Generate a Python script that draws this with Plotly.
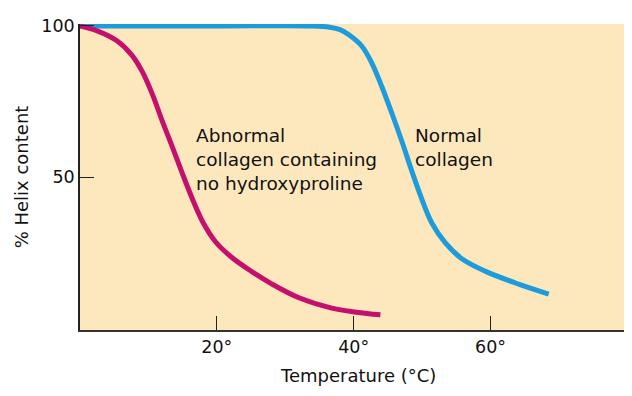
import plotly.graph_objects as go

# Data
abn_temp = [0, 2.5, 5.4, 7.6, 9.1, 10.6, 12.0, 13.5, 14.9, 16.4, 17.9, 19.8, 22.2, 25.0, 28.0, 32.0, 36.8, 41.9, 43.9]
abn_helix = [100, 98.4, 95.1, 90.3, 84.9, 77.3, 68.7, 60.0, 51.6, 43.0, 35.4, 28.7, 23.5, 19.0, 14.8, 10.2, 6.8, 5.0, 4.6]

norm_temp = [0, 20, 34, 36.5, 38, 39.3, 41.2, 42.7, 44.1, 45.6, 47.1, 48.5, 50.0, 51.4, 53.4, 55.8, 59.2, 64.1, 68.5]
norm_helix = [100, 100, 100, 99.6, 98.8, 97.1, 93.3, 87.5, 80.0, 71.0, 61.5, 52.0, 42.5, 35.0, 28.3, 23.1, 19.0, 14.7, 11.4]

x_ticks = [20, 40, 60]
x_tick_labels = ["20°", "40°", "60°"]
y_ticks = [50, 100]
y_tick_labels = ["50", "100"]

FONT = "DejaVu Sans"

fig = go.Figure()
fig.add_trace(go.Scatter(x=norm_temp, y=norm_helix, mode="lines",
                         line=dict(color="#1E9BDA", width=5, shape="spline", smoothing=1.0),
                         hoverinfo="skip"))
fig.add_trace(go.Scatter(x=abn_temp, y=abn_helix, mode="lines",
                         line=dict(color="#C4106C", width=5, shape="spline", smoothing=1.0),
                         hoverinfo="skip"))

fig.add_annotation(x=16.7, y=68, xref="x", yref="y", xanchor="left", yanchor="top",
                   text="Abnormal<br>collagen containing<br>no hydroxyproline",
                   showarrow=False, align="left",
                   font=dict(family=FONT, size=18.5, color="#111"))
fig.add_annotation(x=48.7, y=68, xref="x", yref="y", xanchor="left", yanchor="top",
                   text="Normal<br>collagen",
                   showarrow=False, align="left",
                   font=dict(family=FONT, size=18.5, color="#111"))
# x-axis title (placed as annotation to match its horizontal offset)
fig.add_annotation(x=0.511, y=0, xref="paper", yref="paper", xanchor="center", yanchor="middle",
                   yshift=-45, text="Temperature (°C)", showarrow=False,
                   font=dict(family=FONT, size=18, color="#111"))

fig.update_layout(
    width=624, height=388,
    margin=dict(l=72, r=8, t=10, b=66),
    paper_bgcolor="white",
    plot_bgcolor="#FDE8BD",
    showlegend=False,
    font=dict(family=FONT, size=17.5, color="#111"),
    xaxis=dict(range=[0, 79.5], tickvals=x_ticks, ticktext=x_tick_labels,
               ticks="inside", ticklen=14, tickwidth=1, tickcolor="#222",
               showline=True, linecolor="#333", linewidth=1.5,
               showgrid=False, zeroline=False),
    yaxis=dict(range=[-0.45, 100.65], tickvals=y_ticks, ticktext=y_tick_labels,
               ticks="inside", ticklen=14, tickwidth=1, tickcolor="#222",
               showline=True, linecolor="#222", linewidth=1.5,
               showgrid=False, zeroline=False,
               title=dict(text="% Helix content", font=dict(size=18), standoff=8)),
)

fig.write_html("out.html")
